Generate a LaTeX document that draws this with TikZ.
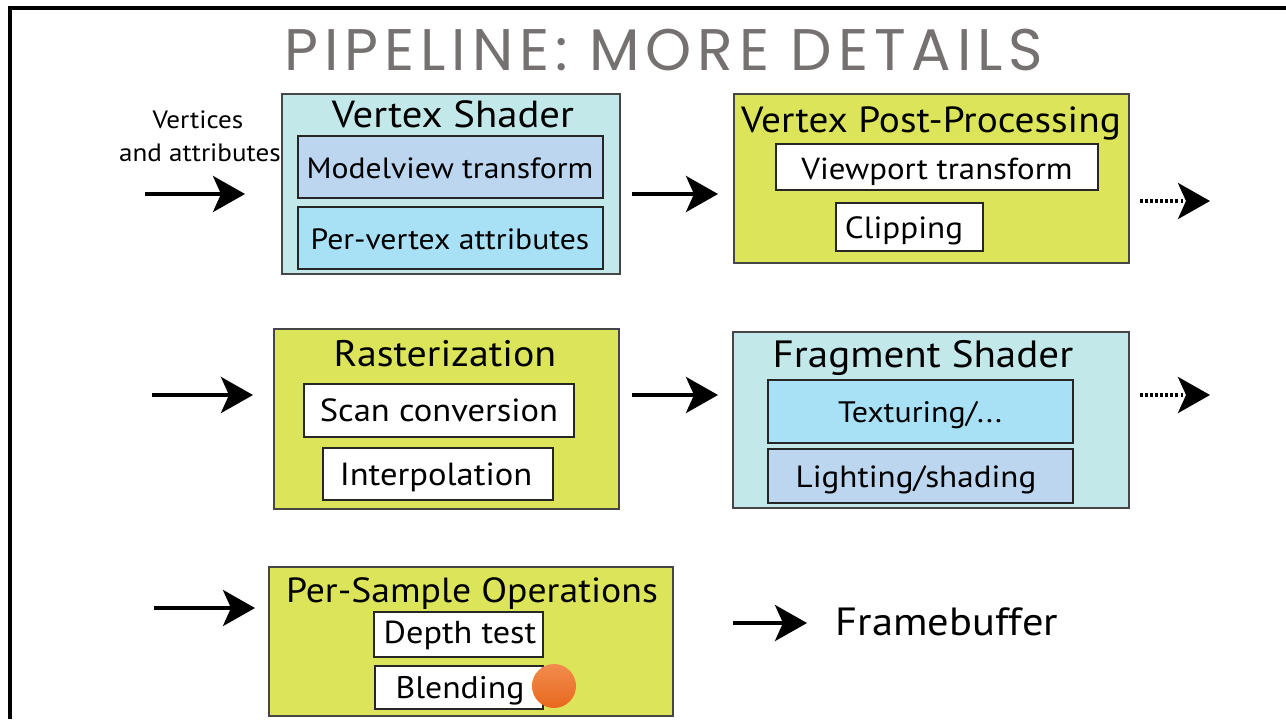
\documentclass[tikz,border=0pt]{standalone}
\usepackage{fontspec}
\setmainfont{PT Sans}[FakeStretch=1.08]
\newfontfamily\titlefont{Poppins}[LetterSpace=10]
\usetikzlibrary{arrows.meta,fit}
\definecolor{cyanbox}{RGB}{194,232,234}
\definecolor{limebox}{RGB}{220,229,90}
\definecolor{lavbox}{RGB}{189,214,240}
\definecolor{skybox}{RGB}{168,224,245}
\definecolor{titlegray}{RGB}{118,113,113}
\definecolor{edgegray}{RGB}{70,70,70}
\definecolor{orangetop}{RGB}{242,140,78}
\definecolor{orangebot}{RGB}{232,104,30}
\newcommand\fsz[1]{\fontsize{#1}{#1}\selectfont}
\tikzset{
  outerbox/.style={draw=edgegray, line width=1pt, inner sep=0pt},
  innerbox/.style={draw=black!85, line width=1pt, inner sep=0pt},
  boxtitle/.style={inner sep=0pt, anchor=base, font=\fsz{28}},
  boxtext/.style={inner sep=0pt, anchor=base, font=\fsz{22}},
  sidetext/.style={inner sep=0pt, anchor=base, font=\fsz{18.8}},
  flow/.style={line width=3pt, -{Stealth[length=24pt, width=27pt, inset=6pt]}},
  dotflow/.style={line width=3pt, dash pattern=on 2.2pt off 1.6pt, -{Stealth[length=24pt, width=27pt, inset=6pt]}},
}
\begin{document}
\begin{tikzpicture}[x=0.75pt, y=-0.75pt]
\useasboundingbox (0,0) rectangle (1286,719);
% frame
\coordinate (fbl) at (10,719);
\coordinate (ftl) at (10,8);
\coordinate (ftr) at (1286,8);
\draw[line width=2.3pt] (fbl) -- (ftl) -- (ftr);
% title
\node[inner sep=0pt, anchor=base, text=titlegray, font=\titlefont\fsz{44}] (title) at (664,70) {PIPELINE: MORE DETAILS};

% ---------- row 1 ----------
\node[sidetext] (vert1) at (198,128) {Vertices};
\node[sidetext] (vert2) at (200,161) {and attributes};
\coordinate (a1s) at (145,194); \coordinate (a1e) at (245,194);
\draw[flow] (a1s) -- (a1e);

\node[outerbox, fill=cyanbox, fit={(282,94) (620,274)}] (vs) {};
\node[boxtitle, font=\fsz{28.3}] (vst) at (453,127) {Vertex Shader};
\node[innerbox, fill=lavbox, fit={(298,136) (603,198)}] (mvb) {};
\node[boxtext] (mvt) at (450,178) {Modelview transform};
\node[innerbox, fill=skybox, fit={(298,207) (603,269)}] (pvb) {};
\node[boxtext] (pvt) at (450,249) {Per-vertex attributes};

\coordinate (a2s) at (632,194); \coordinate (a2e) at (718,194);
\draw[flow] (a2s) -- (a2e);

\node[outerbox, fill=limebox, fit={(734,94) (1129,263)}] (vpp) {};
\node[boxtitle, font=\fsz{27.3}] (vppt) at (931,132) {Vertex Post-Processing};
\node[innerbox, fill=white, fit={(776,144) (1098,190)}] (vpb) {};
\node[boxtext, font=\fsz{22.8}] (vpt) at (937,179) {Viewport transform};
\node[innerbox, fill=white, fit={(836,203) (983,251)}] (clb) {};
\node[boxtext, font=\fsz{23}] (clt) at (904,238) {Clipping};

\coordinate (d1s) at (1140,201); \coordinate (d1e) at (1210,201);
\draw[dotflow] (d1s) -- (d1e);

% ---------- row 2 ----------
\coordinate (a3s) at (152,395); \coordinate (a3e) at (253,395);
\draw[flow] (a3s) -- (a3e);

\node[outerbox, fill=limebox, fit={(274,329) (619,509)}] (ras) {};
\node[boxtitle, font=\fsz{27.7}] (rast) at (445,366) {Rasterization};
\node[innerbox, fill=white, fit={(304,384) (574,437)}] (scb) {};
\node[boxtext, font=\fsz{24}] (sct) at (439,421) {Scan conversion};
\node[innerbox, fill=white, fit={(323,448) (553,500)}] (inb) {};
\node[boxtext, font=\fsz{24}] (intx) at (436,485) {Interpolation};

\coordinate (a4s) at (632,395); \coordinate (a4e) at (718,395);
\draw[flow] (a4s) -- (a4e);

\node[outerbox, fill=cyanbox, fit={(733,332) (1129,508)}] (fs) {};
\node[boxtitle, font=\fsz{28.5}] (fst) at (923,367) {Fragment Shader};
\node[innerbox, fill=skybox, fit={(768,380) (1073,443)}] (txb) {};
\node[boxtext, font=\fsz{22.2}] (txt) at (920,422) {Texturing/...};
\node[innerbox, fill=lavbox, fit={(768,449) (1073,503)}] (lsb) {};
\node[boxtext, font=\fsz{23}] (lst) at (916,487) {Lighting/shading};

\coordinate (d2s) at (1140,395); \coordinate (d2e) at (1210,395);
\draw[dotflow] (d2s) -- (d2e);

% ---------- row 3 ----------
\coordinate (a5s) at (154,608); \coordinate (a5e) at (255,608);
\draw[flow] (a5s) -- (a5e);

\node[outerbox, fill=limebox, fit={(269,567) (673,716)}] (pso) {};
\node[boxtitle, font=\fsz{26.2}] (psot) at (472,602) {Per-Sample Operations};
\node[innerbox, fill=white, fit={(374,612) (543,657)}] (dtb) {};
\node[boxtext, font=\fsz{23.8}] (dtt) at (460,643) {Depth test};
\node[innerbox, fill=white, fit={(375,666) (543,709)}] (blb) {};
\node[boxtext, font=\fsz{23.4}] (blt) at (460,698) {Blending};
\node[circle, inner sep=0pt, minimum size=33pt, top color=orangetop, bottom color=orangebot] (dot) at (554,686) {};

\coordinate (a6s) at (733,623); \coordinate (a6e) at (807,623);
\draw[flow] (a6s) -- (a6e);
\node[inner sep=0pt, anchor=base, font=\fsz{29.5}] (fb) at (947,635) {Framebuffer};
\end{tikzpicture}
\end{document}
